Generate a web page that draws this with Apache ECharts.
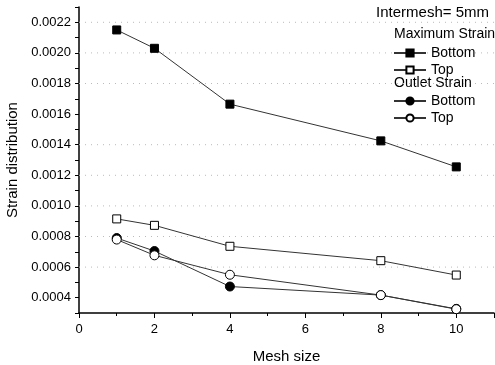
<!DOCTYPE html>
<html>
<head>
<meta charset="utf-8">
<script src="https://cdn.jsdelivr.net/npm/echarts@6/dist/echarts.min.js"></script>
<style>
  html, body { margin: 0; padding: 0; background: #fff; }
  #chart { width: 495px; height: 365px; }
</style>
</head>
<body>
<div id="chart"></div>
<script>
const meshSizes = [1, 2, 4, 8, 10];
const maxBottom = [0.00215, 0.00203, 0.001665, 0.001425, 0.001255];
const maxTop = [0.000915, 0.000873, 0.000736, 0.000642, 0.000548];
const outletBottom = [0.00079, 0.000705, 0.000473, 0.000417, 0.000327];
const outletTop = [0.00078, 0.000677, 0.00055, 0.000417, 0.000325];
const gridValues = [0.0006, 0.0008, 0.001, 0.0012, 0.0014, 0.0018, 0.002, 0.0022];
const gridSpan = [0, 11];

const font = 'Liberation Sans, Arial, sans-serif';
const pairs = (ys) => meshSizes.map((x, i) => [x, ys[i]]);

const chart = echarts.init(document.getElementById('chart'));

const mkSeries = (name, data, symbol, filled) => ({
  name: name,
  type: 'line',
  data: pairs(data),
  symbol: symbol,
  symbolSize: symbol === 'rect' ? 8 : 9,
  lineStyle: { color: '#333', width: 1 },
  itemStyle: { color: filled ? '#000' : '#fff', borderColor: '#000', borderWidth: 1 },
  z: 3
});

// faint dotted reference lines, as in the scanned figure
const gridSeries = gridValues.map(v => ({
  type: 'line',
  data: gridSpan.map(x => [x, v]),
  symbol: 'none',
  silent: true,
  lineStyle: { color: '#bbb', type: [1, 5], width: 1 },
  z: 1
}));

const series = [
  mkSeries('Max Bottom', maxBottom, 'rect', true),
  mkSeries('Max Top', maxTop, 'rect', false),
  mkSeries('Outlet Bottom', outletBottom, 'circle', true),
  mkSeries('Outlet Top', outletTop, 'circle', false)
].concat(gridSeries);

const legendBase = {
  orient: 'vertical',
  left: 388,
  itemWidth: 32,
  itemHeight: 9,
  itemGap: 3,
  formatter: n => n.split(' ')[1],
  textStyle: { fontFamily: font, fontSize: 14, color: '#000' }
};

const option = {
  animation: false,
  grid: { left: 79, right: 1, top: 7, bottom: 52, containLabel: false, outerBoundsMode: 'none' },
  legend: [
    Object.assign({}, legendBase, { top: 41, data: ['Max Bottom', 'Max Top'] }),
    Object.assign({}, legendBase, { top: 89, data: ['Outlet Bottom', 'Outlet Top'] })
  ],
  graphic: [
    { type: 'text', right: 6, top: 5, style: { text: 'Intermesh= 5mm', font: '15px ' + font, fill: '#000' } },
    { type: 'text', left: 394, top: 27, style: { text: 'Maximum Strain', font: '14px ' + font, fill: '#000' } },
    { type: 'text', left: 394, top: 76, style: { text: 'Outlet Strain', font: '14px ' + font, fill: '#000' } }
  ],
  xAxis: {
    type: 'value',
    min: 0,
    max: 11,
    interval: 2,
    name: 'Mesh size',
    nameLocation: 'middle',
    nameGap: 36,
    nameTextStyle: { fontFamily: font, fontSize: 15, color: '#000' },
    axisLine: { lineStyle: { color: '#000', width: 1.5 } },
    axisTick: { length: 5, lineStyle: { color: '#000' } },
    minorTick: { show: true, splitNumber: 2, length: 3, lineStyle: { color: '#000' } },
    axisLabel: { fontFamily: font, fontSize: 13, color: '#000', margin: 10, showMaxLabel: false },
    splitLine: { show: false }
  },
  yAxis: {
    type: 'value',
    min: 0.0003,
    max: 0.0023,
    interval: 0.0001,
    name: 'Strain distribution',
    nameLocation: 'middle',
    nameGap: 55,
    nameTextStyle: { fontFamily: font, fontSize: 15, color: '#000' },
    axisLine: { show: true, lineStyle: { color: '#000', width: 1.5 } },
    axisTick: { length: 4, lineStyle: { color: '#000' } },
    axisLabel: {
      fontFamily: font, fontSize: 13, color: '#000', margin: 8,
      formatter: v => (Math.round(v * 10000) % 2 === 0 ? v.toFixed(4) : '')
    },
    splitLine: { show: false }
  },
  series: series
};

chart.setOption(option);
</script>
</body>
</html>
